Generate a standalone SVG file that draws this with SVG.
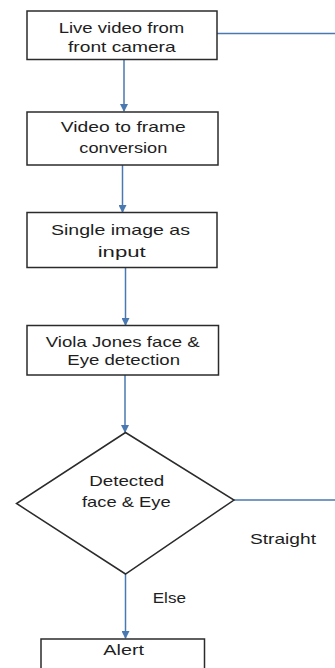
<svg xmlns="http://www.w3.org/2000/svg" width="335" height="668" viewBox="0 0 335 668">
  <style>
    .box { fill: #ffffff; stroke: #2b2b2b; stroke-width: 1.5; }
    .lbl { font-family: "Liberation Sans", Arial, sans-serif; font-size: 14.5px; fill: #1e1e1e; }
    .wire { fill: none; stroke: #4a78b0; stroke-width: 1.5; }
    .arrow { marker-end: url(#head); }
  </style>
  <defs>
    <marker id="head" viewBox="0 0 8 8" refX="7" refY="4" markerWidth="8" markerHeight="8" markerUnits="userSpaceOnUse" orient="auto">
      <path d="M0,0 L8,4 L0,8 z" fill="#4a78b0"/>
    </marker>
  </defs>
  <rect width="335" height="668" fill="#ffffff"/>

  <g id="connectors">
    <line class="wire" x1="217" y1="33.5" x2="335" y2="33.5"/>
    <line class="wire arrow" x1="124" y1="60" x2="124" y2="111"/>
    <line class="wire arrow" x1="122.5" y1="165" x2="122.5" y2="212"/>
    <line class="wire arrow" x1="125.5" y1="268" x2="125.5" y2="325"/>
    <line class="wire arrow" x1="125" y1="375" x2="125" y2="432"/>
    <line class="wire" x1="234" y1="500" x2="335" y2="500"/>
    <line class="wire arrow" x1="125.5" y1="574" x2="125.5" y2="638"/>
  </g>

  <g id="live-video">
    <rect class="box" x="27" y="11" width="190" height="48.5"/>
    <text class="lbl" x="58.7" y="33.3" textLength="125.6" lengthAdjust="spacingAndGlyphs">Live video from</text>
    <text class="lbl" x="68" y="51.7" textLength="107.7" lengthAdjust="spacingAndGlyphs">front camera</text>
  </g>

  <g id="frame-conversion">
    <rect class="box" x="27" y="112" width="191" height="53"/>
    <text class="lbl" x="60.7" y="132.3" textLength="125" lengthAdjust="spacingAndGlyphs">Video to frame</text>
    <text class="lbl" x="79.3" y="153.3" textLength="88" lengthAdjust="spacingAndGlyphs">conversion</text>
  </g>

  <g id="single-image">
    <rect class="box" x="27" y="212.5" width="190" height="55"/>
    <text class="lbl" x="51" y="235" textLength="139" lengthAdjust="spacingAndGlyphs">Single image as</text>
    <text class="lbl" x="97.7" y="257.3" textLength="48" lengthAdjust="spacingAndGlyphs">input</text>
  </g>

  <g id="viola-jones">
    <rect class="box" x="27" y="325.5" width="191.5" height="49.5"/>
    <text class="lbl" x="45.7" y="347.3" textLength="154" lengthAdjust="spacingAndGlyphs">Viola Jones face &amp;</text>
    <text class="lbl" x="67.3" y="364.5" textLength="112.7" lengthAdjust="spacingAndGlyphs">Eye detection</text>
  </g>

  <g id="decision">
    <polygon class="box" points="125.5,432.5 234,500 125.5,574 16.5,503.5"/>
    <text class="lbl" x="89.3" y="485.7" textLength="75" lengthAdjust="spacingAndGlyphs">Detected</text>
    <text class="lbl" x="82" y="507.3" textLength="88.7" lengthAdjust="spacingAndGlyphs">face &amp; Eye</text>
  </g>

  <g id="alert">
    <rect class="box" x="41" y="639" width="163.5" height="40"/>
    <text class="lbl" x="103.3" y="655" textLength="40.7" lengthAdjust="spacingAndGlyphs">Alert</text>
  </g>

  <text class="lbl" x="250" y="544" textLength="66" lengthAdjust="spacingAndGlyphs">Straight</text>
  <text class="lbl" x="152.7" y="602.7" textLength="33.3" lengthAdjust="spacingAndGlyphs">Else</text>
</svg>
